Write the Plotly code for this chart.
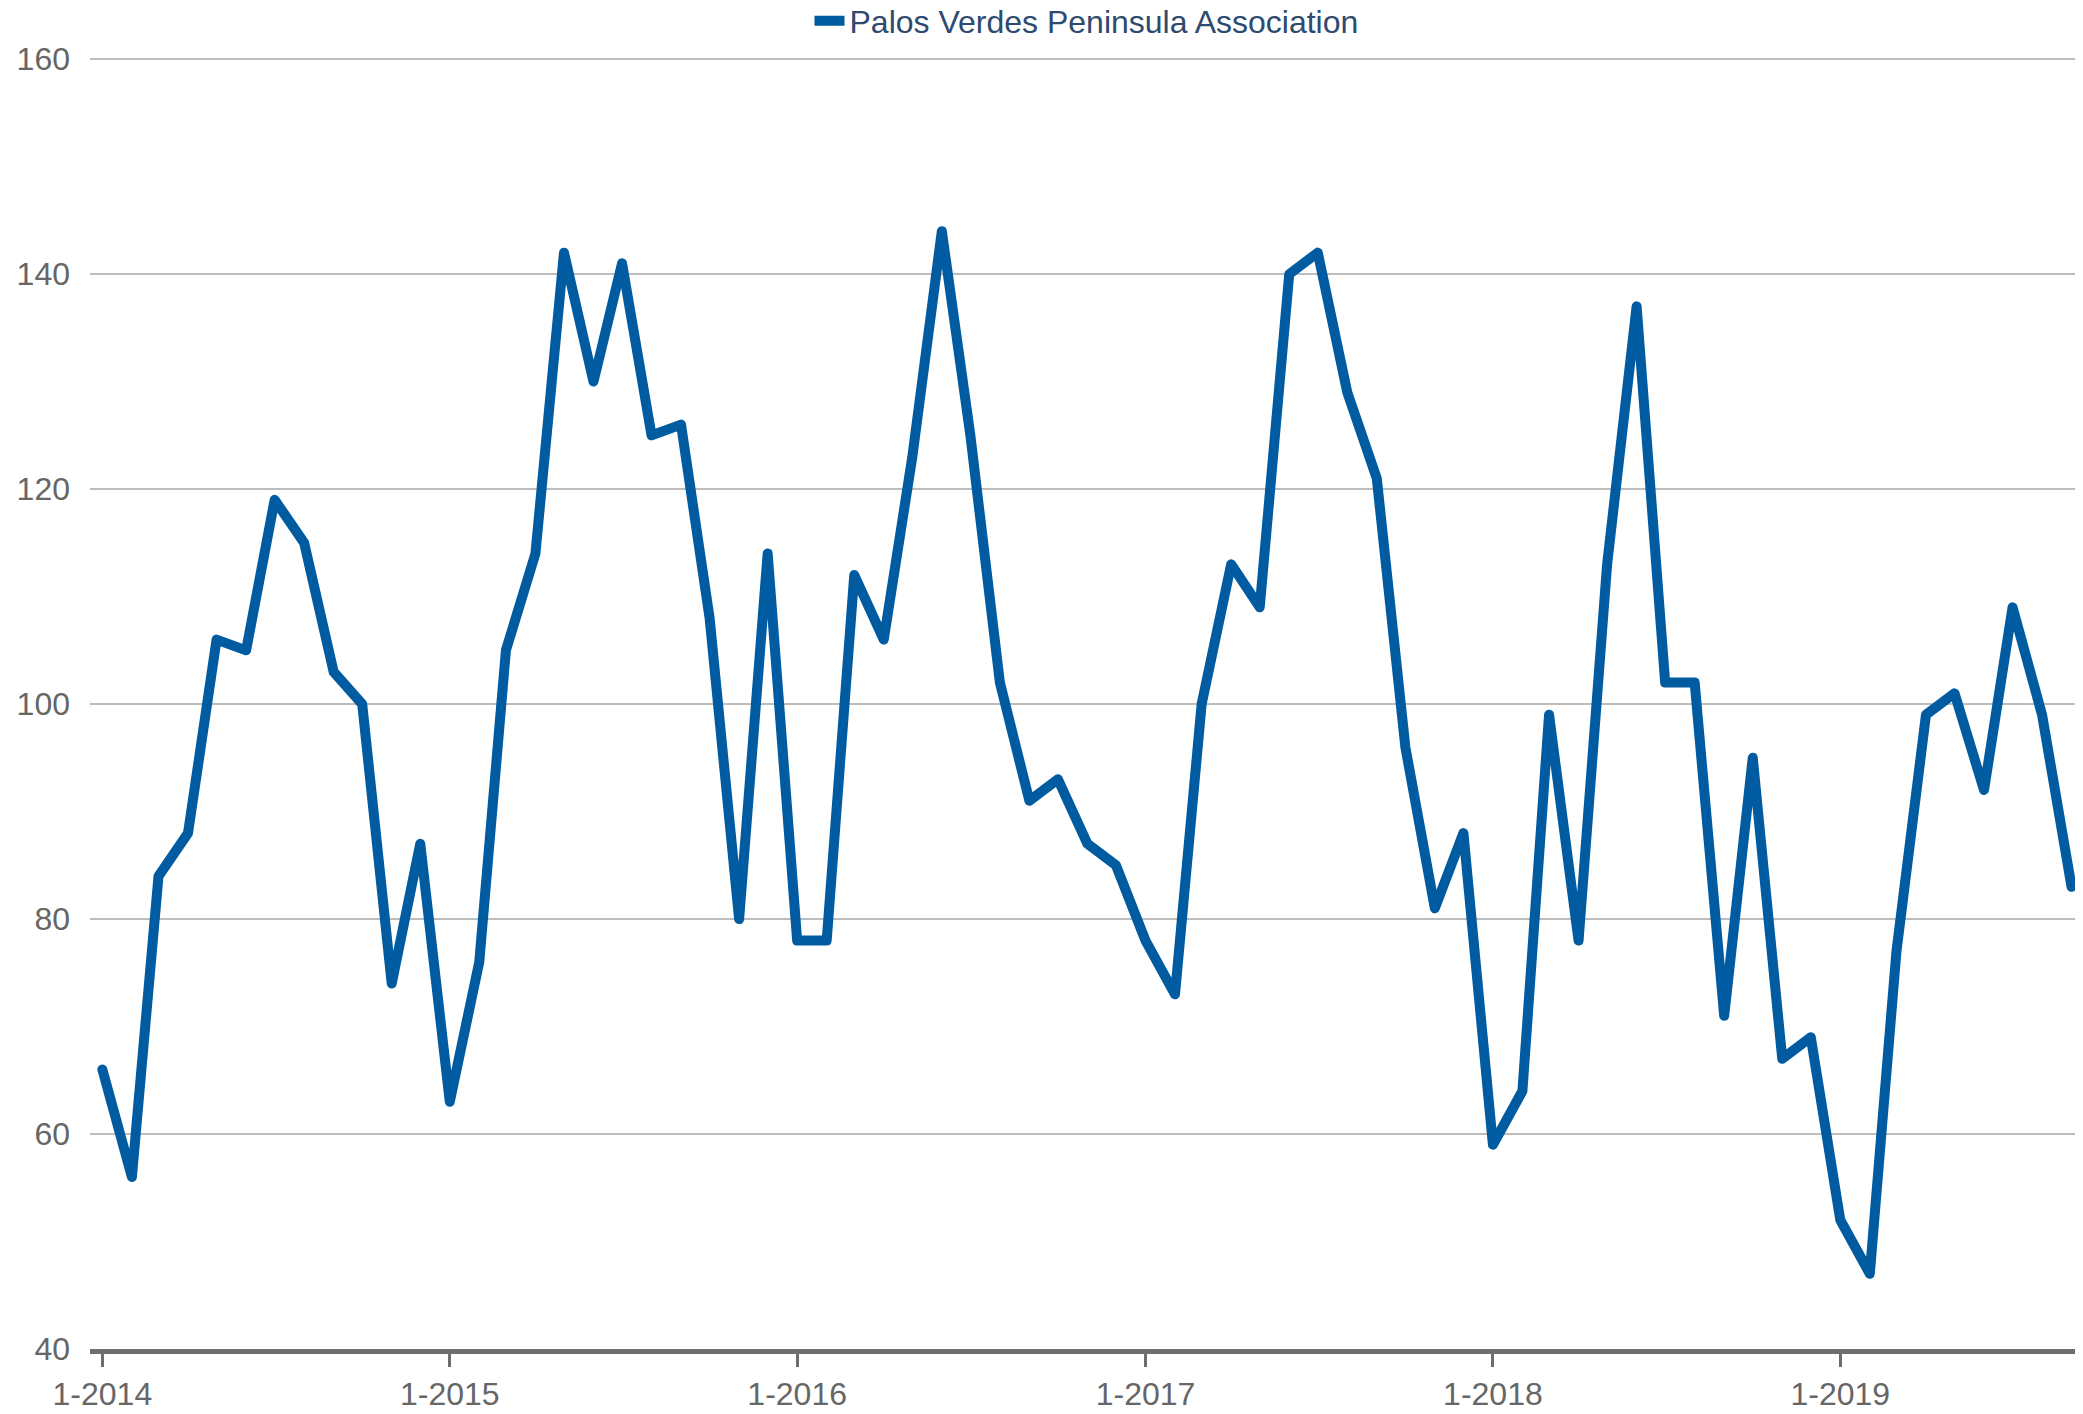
import pandas as pd
import plotly.graph_objects as go

series_name = "Palos Verdes Peninsula Association"
start_month = "2014-01-01"
values = [66, 56, 84, 88, 106, 105, 119, 115, 103, 100, 74, 87,
          63, 76, 105, 114, 142, 130, 141, 125, 126, 108, 80, 114,
          78, 78, 112, 106, 123, 144, 125, 102, 91, 93, 87, 85,
          78, 73, 100, 113, 109, 140, 142, 129, 121, 96, 81, 88,
          59, 64, 99, 78, 113, 137, 102, 102, 71, 95, 67, 69,
          52, 47, 77, 99, 101, 92, 109, 99, 83]
tick_dates = ["2014-01-01", "2015-01-01", "2016-01-01", "2017-01-01", "2018-01-01", "2019-01-01"]
tick_labels = ["1-2014", "1-2015", "1-2016", "1-2017", "1-2018", "1-2019"]
y_ticks = [40, 60, 80, 100, 120, 140, 160]

months = pd.date_range(start_month, periods=len(values), freq="MS")

fig = go.Figure()
fig.add_trace(go.Scatter(
    x=months, y=values, mode="lines", name=series_name,
    line=dict(color="#005BA0", width=10),
))

fig.update_layout(
    width=2083, height=1414,
    margin=dict(l=82, r=8, t=49, b=73, autoexpand=False),
    paper_bgcolor="white", plot_bgcolor="white",
    font=dict(family="Liberation Sans, Arial, sans-serif", size=32, color="#666666"),
    showlegend=True,
    legend=dict(orientation="h", x=0.5, xanchor="center", y=1.0279, yanchor="middle",
                font=dict(size=32, color="#2E4A6E"), bgcolor="rgba(0,0,0,0)"),
)
fig.update_xaxes(
    range=["2013-12-19", "2019-09-13"],
    tickvals=tick_dates, ticktext=tick_labels,
    showgrid=False, zeroline=False,
    showline=True, linecolor="#6E6E6E", linewidth=5,
    ticks="outside", ticklen=13, tickwidth=3, tickcolor="#6E6E6E",
    tickfont=dict(size=32, color="#666666"),
)
fig.update_yaxes(
    range=[40, 160.2], tickvals=y_ticks,
    showgrid=True, gridcolor="#BDBDBD", gridwidth=2,
    zeroline=False, showline=False, ticks="",
    ticklabelstandoff=19,
    tickfont=dict(size=32, color="#666666"),
)

round_joins = (
    "var s=document.createElement('style');"
    "s.textContent='.scatterlayer .js-line{stroke-linejoin:round !important;stroke-linecap:round !important;}';"
    "document.head.appendChild(s);"
)
fig.write_html("out.html", post_script=round_joins)
